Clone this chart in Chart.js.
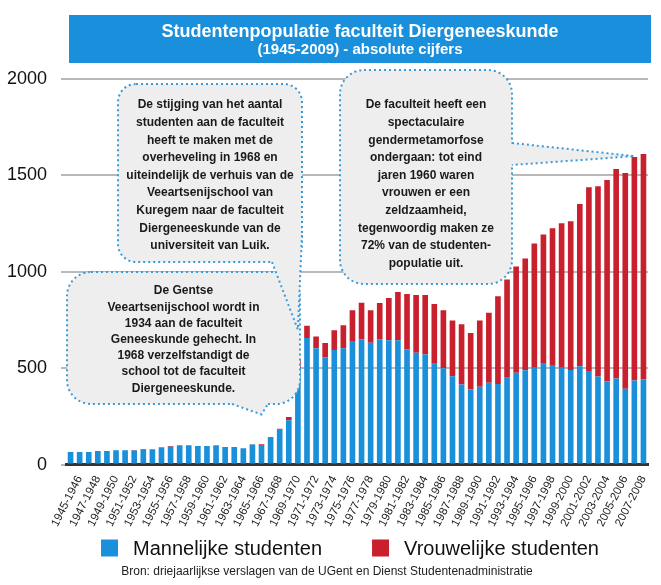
<!DOCTYPE html>
<html>
<head>
<meta charset="utf-8">
<script src="https://cdn.jsdelivr.net/npm/chart.js@4.4.0/dist/chart.umd.min.js"></script>
<style>
html, body { margin: 0; padding: 0; background: #fff; }
#wrap { width: 661px; height: 585px; }
</style>
</head>
<body>
<div id="wrap"><canvas id="chart"></canvas></div>
<script>
// academiejaren
const jaren = [
    '1945-1946','1946-1947','1947-1948','1948-1949','1949-1950','1950-1951','1951-1952','1952-1953',
    '1953-1954','1954-1955','1955-1956','1956-1957','1957-1958','1958-1959','1959-1960','1960-1961',
    '1961-1962','1962-1963','1963-1964','1964-1965','1965-1966','1966-1967','1967-1968','1968-1969',
    '1969-1970','1970-1971','1971-1972','1972-1973','1973-1974','1974-1975','1975-1976','1976-1977',
    '1977-1978','1978-1979','1979-1980','1980-1981','1981-1982','1982-1983','1983-1984','1984-1985',
    '1985-1986','1986-1987','1987-1988','1988-1989','1989-1990','1990-1991','1991-1992','1992-1993',
    '1993-1994','1994-1995','1995-1996','1996-1997','1997-1998','1998-1999','1999-2000','2000-2001',
    '2001-2002','2002-2003','2003-2004','2004-2005','2005-2006','2006-2007','2007-2008','2008-2009'
];
// enkel deze labels staan onder de as
const asLabels = [
    '1945-1946','1947-1948','1949-1950','1951-1952','1953-1954','1955-1956','1957-1958','1959-1960',
    '1961-1962','1963-1964','1965-1966','1967-1968','1969-1970','1971-1972','1973-1974','1975-1976',
    '1977-1978','1979-1980','1981-1982','1983-1984','1985-1986','1987-1988','1989-1990','1991-1992',
    '1993-1994','1995-1996','1997-1998','1999-2000','2001-2002','2003-2004','2005-2006','2007-2008'
];
const mannen = [
    65, 65, 65, 70, 70, 75, 75, 73, 76, 80, 90, 93, 100, 100, 96, 96,
    98, 91, 91, 85, 104, 102, 139, 181, 230, 500, 657, 604, 557, 594, 604, 641,
    650, 632, 650, 645, 645, 597, 580, 571, 523, 500, 458, 415, 390, 404, 425, 418,
    451, 477, 490, 502, 523, 517, 502, 491, 510, 486, 457, 431, 446, 394, 436, 441
];
const vrouwen = [
    0, 0, 0, 0, 0, 0, 0, 3, 4, 0, 0, 3, 1, 0, 0, 0,
    3, 0, 0, 0, 2, 3, 4, 5, 17, 45, 63, 61, 74, 103, 119, 160,
    190, 169, 188, 219, 250, 288, 300, 309, 310, 300, 290, 313, 292, 343, 363, 455,
    509, 551, 579, 645, 671, 709, 750, 771, 842, 953, 987, 1045, 1087, 1118, 1159, 1170
];
const yTicks = [0, 500, 1000, 1500, 2000];

const blauw = '#1a8fda';
const rood = '#c9202e';

// tekstballonnen (tip wijst naar een jaar/waarde op de grafiek)
const ballonnen = [
    {
        box: {x: 67, y: 272, w: 233, h: 132, r: 24},
        basis: [[232, 404], [268, 404]], binnen: [250, 396],
        tip: {jaar: '1966-1967', waarde: 260},
        eersteLijn: 291, lijnHoogte: 16.2,
        tekst: ['De Gentse', 'Veeartsenijschool wordt in', '1934 aan de faculteit',
            'Geneeskunde gehecht. In', '1968 verzelfstandigt de', 'school tot de faculteit',
            'Diergeneeskunde.']
    },
    {
        box: {x: 118, y: 84, w: 184, h: 178, r: 18},
        basis: [[272, 262], [302, 234]], binnen: [286, 246],
        tip: {jaar: '1970-1971', waarde: 700},
        eersteLijn: 105, lijnHoogte: 17.6,
        tekst: ['De stijging van het aantal', 'studenten aan de faculteit', 'heeft te maken met de',
            'overheveling in 1968 en', 'uiteindelijk de verhuis van de', 'Veeartsenijschool van',
            'Kuregem naar de faculteit', 'Diergeneeskunde van de', 'universiteit van Luik.']
    },
    {
        box: {x: 340, y: 70, w: 172, h: 214, r: 24},
        basis: [[512, 143], [512, 165]], binnen: [500, 154],
        tip: {jaar: '2007-2008', waarde: 1600},
        eersteLijn: 105, lijnHoogte: 17.6,
        tekst: ['De faculteit heeft een', 'spectaculaire', 'gendermetamorfose', 'ondergaan: tot eind',
            'jaren 1960 waren', 'vrouwen er een', 'zeldzaamheid,', 'tegenwoordig maken ze',
            '72% van de studenten-', 'populatie uit.']
    }
];

function roundRect(ctx, b){
    ctx.beginPath();
    ctx.moveTo(b.x + b.r, b.y);
    ctx.arcTo(b.x + b.w, b.y, b.x + b.w, b.y + b.h, b.r);
    ctx.arcTo(b.x + b.w, b.y + b.h, b.x, b.y + b.h, b.r);
    ctx.arcTo(b.x, b.y + b.h, b.x, b.y, b.r);
    ctx.arcTo(b.x, b.y, b.x + b.w, b.y, b.r);
    ctx.closePath();
}

const bannerPlugin = {
    id: 'banner',
    beforeDraw(chart){
        const ctx = chart.ctx;
        const a = chart.chartArea;
        ctx.save();
        ctx.fillStyle = '#1a8fdb';
        ctx.fillRect(a.left + 3, 15, a.right - a.left, 48);
        ctx.fillStyle = '#ffffff';
        ctx.textAlign = 'center';
        ctx.textBaseline = 'middle';
        const cx = a.left + 3 + (a.right - a.left) / 2;
        ctx.font = 'bold 18px "Liberation Sans", Arial, sans-serif';
        ctx.fillText('Studentenpopulatie faculteit Diergeneeskunde', cx, 32);
        ctx.font = 'bold 15px "Liberation Sans", Arial, sans-serif';
        ctx.fillText('(1945-2009) - absolute cijfers', cx, 50);
        ctx.restore();
    }
};

const ballonPlugin = {
    id: 'ballonnen',
    afterDatasetsDraw(chart){
        const ctx = chart.ctx;
        const xs = chart.scales.x, ys = chart.scales.y;
        ballonnen.forEach(bl => {
            const tx = xs.getPixelForValue(jaren.indexOf(bl.tip.jaar));
            const ty = ys.getPixelForValue(bl.tip.waarde);
            ctx.save();
            ctx.fillStyle = '#eeeeee';
            ctx.strokeStyle = '#3b9bd8';
            ctx.lineWidth = 2;
            ctx.setLineDash([2, 3]);
            roundRect(ctx, bl.box);
            ctx.fill();
            ctx.stroke();
            // staart
            ctx.beginPath();
            ctx.moveTo(bl.basis[0][0], bl.basis[0][1]);
            ctx.lineTo(tx, ty);
            ctx.lineTo(bl.basis[1][0], bl.basis[1][1]);
            ctx.lineTo(bl.binnen[0], bl.binnen[1]);
            ctx.closePath();
            ctx.setLineDash([]);
            ctx.fill();
            ctx.setLineDash([2, 3]);
            ctx.beginPath();
            ctx.moveTo(bl.basis[0][0], bl.basis[0][1]);
            ctx.lineTo(tx, ty);
            ctx.lineTo(bl.basis[1][0], bl.basis[1][1]);
            ctx.stroke();
            // tekst
            ctx.fillStyle = '#1a1a1a';
            ctx.font = 'bold 12px "Liberation Sans", Arial, sans-serif';
            ctx.textAlign = 'center';
            ctx.textBaseline = 'middle';
            const cx = bl.box.x + bl.box.w / 2;
            bl.tekst.forEach((t, i) => ctx.fillText(t, cx, bl.eersteLijn + i * bl.lijnHoogte));
            ctx.restore();
        });
    }
};

// legende zelf tekenen: de ingebouwde laat geen grote tussenruimte toe
const legendePlugin = {
    id: 'legende',
    afterDraw(chart){
        const ctx = chart.ctx;
        const sets = chart.data.datasets;
        const box = 17, tussen = 15, gat = 50, y = 548;
        ctx.save();
        ctx.font = '20px "Liberation Sans", Arial, sans-serif';
        ctx.textBaseline = 'middle';
        const breedtes = sets.map(d => box + tussen + ctx.measureText(d.label).width);
        const totaal = breedtes.reduce((a, b) => a + b, 0) + gat * (sets.length - 1);
        let x = 350 - totaal / 2;
        sets.forEach((d, i) => {
            ctx.fillStyle = d.backgroundColor;
            ctx.fillRect(x, y - box / 2, box, box);
            ctx.fillStyle = '#111111';
            ctx.fillText(d.label, x + box + tussen, y + 1);
            x += breedtes[i] + gat;
        });
        ctx.restore();
    }
};

Chart.defaults.font.family = '"Liberation Sans", Arial, sans-serif';

new Chart(document.getElementById('chart'), {
    type: 'bar',
    data: {
        labels: jaren,
        datasets: [
            { label: 'Mannelijke studenten', data: mannen, backgroundColor: blauw },
            { label: 'Vrouwelijke studenten', data: vrouwen, backgroundColor: rood }
        ]
    },
    options: {
        responsive: true,
        maintainAspectRatio: false,
        animation: false,
        datasets: { bar: { categoryPercentage: 1, barPercentage: 0.62 } },
        layout: { padding: { left: 6, right: 13, top: 79, bottom: 0 } },
        scales: {
            x: {
                stacked: true,
                grid: { display: false },
                border: { display: true, color: '#333333', width: 3 },
                ticks: {
                    autoSkip: false,
                    minRotation: 63,
                    maxRotation: 63,
                    padding: 1,
                    labelOffset: 9,
                    color: '#1a1a1a',
                    font: { size: 11.5 },
                    callback: function(v, i){
                        const l = jaren[i];
                        return asLabels.includes(l) ? l : '';
                    }
                },
                afterFit(scale){ scale.height = 105; }
            },
            y: {
                stacked: true,
                min: 0,
                max: 2000,
                afterBuildTicks(scale){ scale.ticks = yTicks.map(v => ({value: v})); },
                grid: { color: '#b9b9b9', lineWidth: 2, tickLength: 5, drawTicks: true },
                border: { display: false },
                ticks: {
                    padding: 14,
                    color: '#111111',
                    font: { size: 18 },
                    callback: v => String(v)
                },
                afterFit(scale){ scale.width = 60; }
            }
        },
        plugins: {
            legend: { display: false },
            subtitle: {
                display: true,
                position: 'bottom',
                text: 'Bron: driejaarlijkse verslagen van de UGent en Dienst Studentenadministratie',
                color: '#222222',
                font: { size: 12 },
                padding: { top: -5, bottom: 6 }
            },
            tooltip: { enabled: false }
        }
    },
    plugins: [bannerPlugin, ballonPlugin, legendePlugin]
});
</script>
</body>
</html>
